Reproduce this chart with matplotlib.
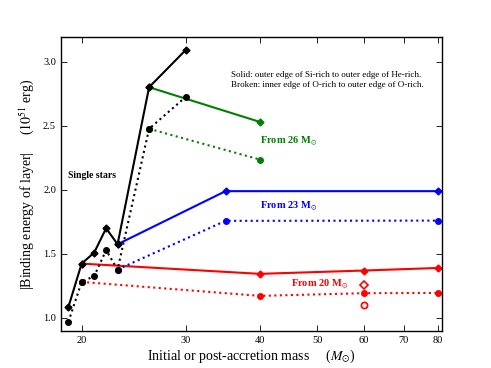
import matplotlib
matplotlib.use("Agg")
import matplotlib.pyplot as plt
from matplotlib.ticker import FixedLocator, NullLocator, FixedFormatter

plt.rcParams['font.family'] = ['Liberation Serif', 'DejaVu Serif']
plt.rcParams['mathtext.fontset'] = 'stix'

# Single stars
single_m = [19, 20, 21, 22, 23, 26, 30]
single_solid = [1.086, 1.424, 1.51, 1.70, 1.575, 2.802, 3.094]
single_broken = [0.969, 1.281, 1.326, 1.529, 1.378, 2.477, 2.727]

# From 26 Msun
m26 = [26, 40]
s26_solid = [2.802, 2.531]
s26_broken = [2.477, 2.237]

# From 23 Msun
m23 = [23, 35, 80]
s23_solid = [1.575, 1.99, 1.99]
s23_broken = [1.378, 1.758, 1.76]

# From 20 Msun
m20 = [20, 40, 60, 80]
s20_solid = [1.424, 1.344, 1.37, 1.39]
s20_broken = [1.281, 1.172, 1.193, 1.195]

# Extra open markers at 60
extra_m = [60]
extra_diamond = [1.255]
extra_circle = [1.104]

xticks = [20, 30, 40, 50, 60, 70, 80]
yticks = [1.0, 1.5, 2.0, 2.5, 3.0]

fig = plt.figure(figsize=(4.91, 3.68), dpi=100)
ax = fig.add_axes([0.124, 0.100, 0.776, 0.799])

ms_d = 3.5
ms_c = 4
lw = 1.5

def series(x, ys, yb, color):
    ax.plot(x, ys, '-', color=color, lw=lw, marker='D', ms=ms_d, mec=color, mfc=color)
    ax.plot(x, yb, ':', color=color, lw=lw, marker='o', ms=ms_c, mec=color, mfc=color)

series(m20, s20_solid, s20_broken, 'red')
series(m23, s23_solid, s23_broken, 'blue')
series(m26, s26_solid, s26_broken, 'green')
series(single_m, single_solid, single_broken, 'black')

ax.plot(extra_m, extra_diamond, 'D', ms=4.5, mfc='white', mec='red', mew=1.2, ls='none')
ax.plot(extra_m, extra_circle, 'o', ms=4.5, mfc='white', mec='red', mew=1.2, ls='none')

ax.set_xscale('log')
ax.set_xlim(18.45, 81.2)
ax.set_ylim(0.896, 3.193)
ax.xaxis.set_major_locator(FixedLocator(xticks))
ax.xaxis.set_major_formatter(FixedFormatter([str(t) for t in xticks]))
ax.xaxis.set_minor_locator(NullLocator())
ax.set_yticks(yticks)
ax.set_yticklabels([f"{t:.1f}" for t in yticks])
ax.tick_params(direction='in', top=True, right=True, labelsize=7.5, length=4, width=0.6)
for s in ax.spines.values():
    s.set_linewidth(1.0)

ax.set_xlabel(r"Initial or post-accretion mass     ($M_{\odot}$)", fontsize=10, labelpad=2)
ax.set_ylabel(r"|Binding energy of layer|     ($10^{51}$ erg)", fontsize=10, labelpad=5)

ax.text(18.96, 2.115, "Single stars", fontsize=7, fontweight='bold', color='black', va='center')
ax.text(40, 2.38, r"From 26 M$_{\odot}$", fontsize=7.5, fontweight='bold', color='green', va='center')
ax.text(40, 1.873, r"From 23 M$_{\odot}$", fontsize=7.5, fontweight='bold', color='blue', va='center')
ax.text(45.07, 1.263, r"From 20 M$_{\odot}$", fontsize=7.5, fontweight='bold', color='red', va='center')
ax.text(35.8, 2.857, "Solid: outer edge of Si-rich to outer edge of He-rich.\n"
        "Broken: inner edge of O-rich to outer edge of O-rich.",
        fontsize=6.5, color='black', linespacing=1.3, va='center')

fig.savefig("out.png", dpi=100)
